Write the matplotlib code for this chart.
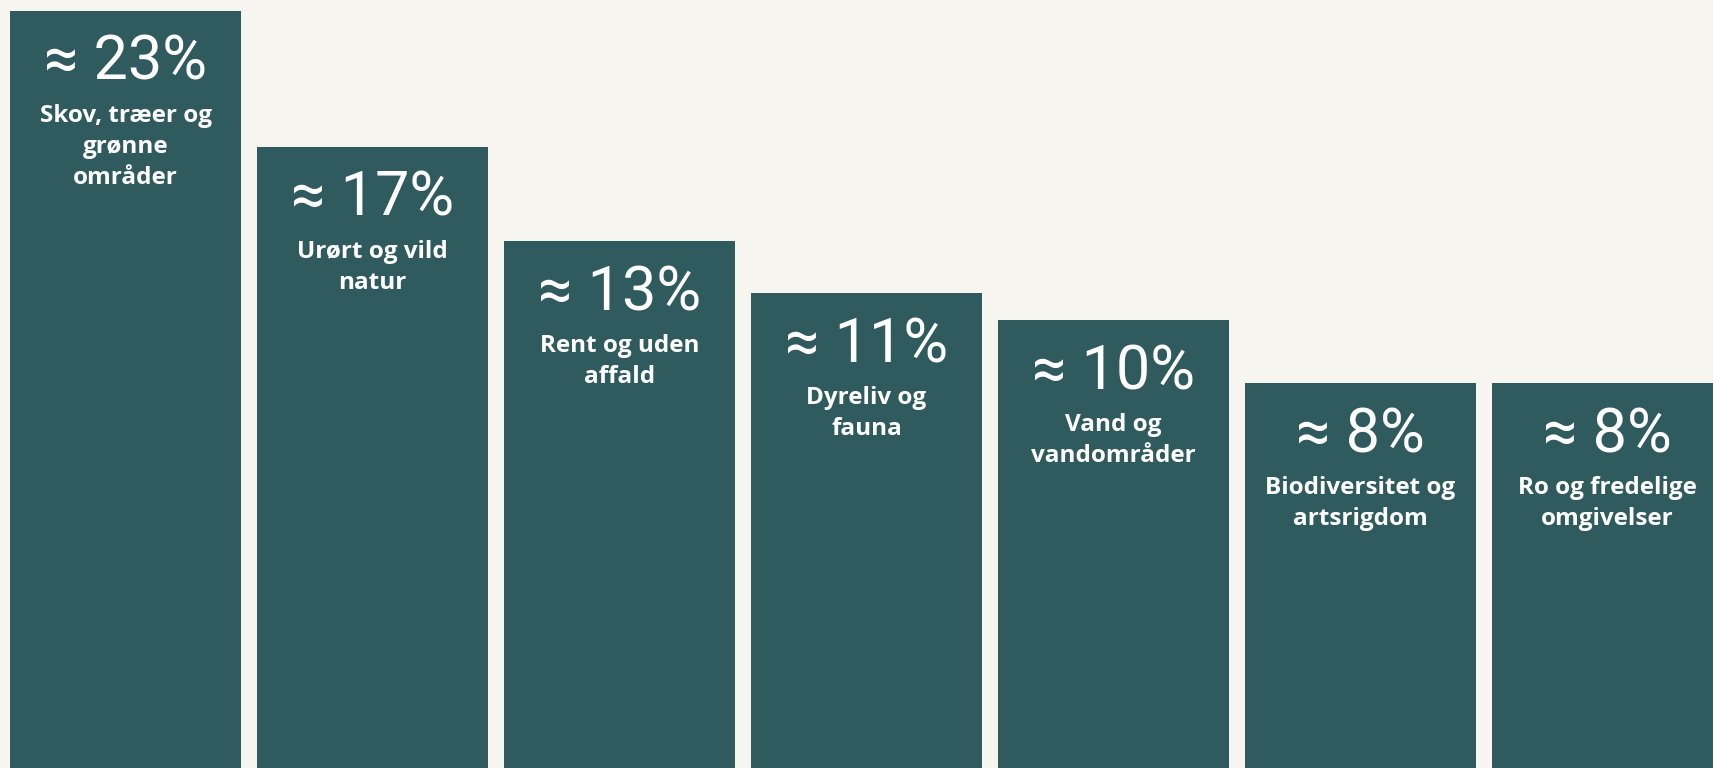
import matplotlib
matplotlib.use("Agg")
import matplotlib.pyplot as plt

# Data
categories = [
    "Skov, træer og\ngrønne\nområder",
    "Urørt og vild\nnatur",
    "Rent og uden\naffald",
    "Dyreliv og\nfauna",
    "Vand og\nvandområder",
    "Biodiversitet og\nartsrigdom",
    "Ro og fredelige\nomgivelser",
]
value_labels = ["≈ 23%", "≈ 17%", "≈ 13%", "≈ 11%", "≈ 10%", "≈ 8%", "≈ 8%"]
# bar heights (share of chart height, %)
bar_heights = [98.6, 80.9, 68.6, 61.8, 58.3, 50.1, 50.1]

BAR = "#2F5B5F"
BG = "#F6F5F0"
W, H, DPI = 1713, 768, 100

fig = plt.figure(figsize=(W / DPI, H / DPI), dpi=DPI, facecolor=BG)
ax = fig.add_axes([0, 0, 1, 1])
ax.set_facecolor(BG)

pitch = 247.0
width = 231.0 / pitch
x = list(range(len(bar_heights)))
ax.bar(x, bar_heights, width=width, color=BAR, edgecolor="none")

left_center = 10 + 115.5
ax.set_xlim(-left_center / pitch, (W - left_center) / pitch)
ax.set_ylim(0, 100)
ax.axis("off")

for xi, h, lab, cat in zip(x, bar_heights, value_labels, categories):
    ax.annotate(lab, xy=(xi, h), xytext=(0, -69), textcoords="offset pixels",
                ha="center", va="baseline", color="white", fontsize=44,
                family=["Roboto", "DejaVu Sans"], fontweight="normal")
    for i, line in enumerate(cat.split("\n")):
        ax.annotate(line, xy=(xi, h), xytext=(0, -111 - 31 * i),
                    textcoords="offset pixels", ha="center", va="baseline",
                    color="white", fontsize=17.5,
                    family=["Open Sans", "DejaVu Sans"], fontweight="bold")

fig.savefig("out.png", dpi=DPI, facecolor=BG)
